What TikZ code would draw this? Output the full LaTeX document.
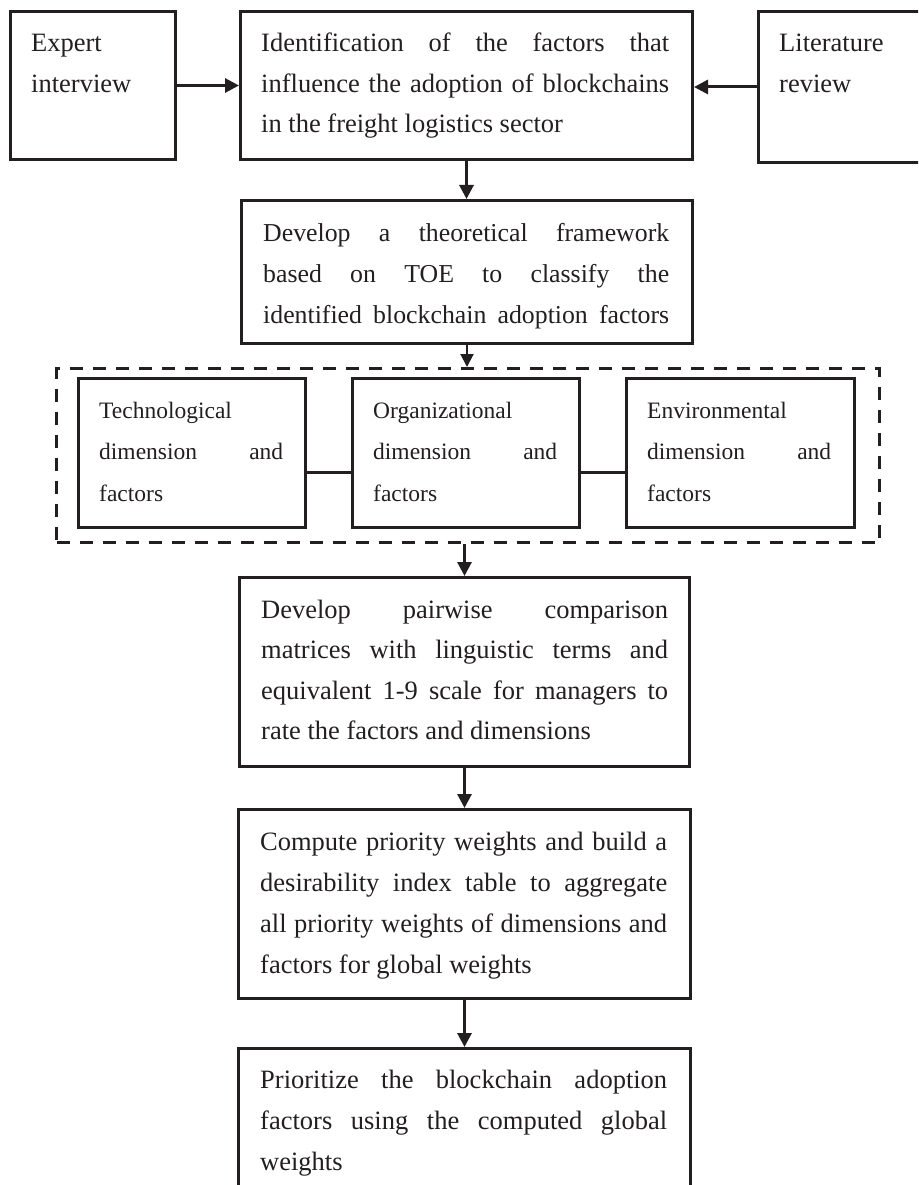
\documentclass[tikz,border=0pt]{standalone}
\usepackage{fontspec}
\setmainfont{Liberation Serif}
\usetikzlibrary{arrows.meta}
\definecolor{ink}{RGB}{35,31,32}
\hyphenpenalty=10000
\exhyphenpenalty=10000
\tikzset{
  boxe/.style={draw=ink, line width=3pt, inner sep=0pt, anchor=north west},
  arr/.style={draw=ink, line width=3pt, -{Triangle[length=14pt,width=14pt]}},
  thinarr/.style={draw=ink, line width=2pt, -{Triangle[length=13pt,width=13pt]}},
  link/.style={draw=ink, line width=3pt},
  dashbox/.style={draw=ink, line width=3pt, dash pattern=on 13pt off 10pt, inner sep=0pt, anchor=north west},
  bigtxt/.style={anchor=base west, inner sep=0pt, text=ink},
  smalltxt/.style={anchor=base west, inner sep=0pt, text=ink},
}
\newcommand{\mainpar}[3]{\parbox[t]{#1pt}{\fontsize{26.5}{#2}\selectfont\sloppy #3}}
\newcommand{\tightpar}[3]{\parbox[t]{#1pt}{\fontsize{25.8}{#2}\selectfont\sloppy\parfillskip=0pt #3}}
\newcommand{\smallpar}[1]{\parbox[t]{184pt}{\fontsize{23.5}{41.7}\selectfont\sloppy #1}}
\begin{document}
\begin{tikzpicture}[x=1pt,y=-1pt]
\useasboundingbox (0,0) rectangle (918,1185);
\clip (0,0) rectangle (918,1185);
\fill[white] (0,0) rectangle (918,1185);

% boxes
\node[boxe, minimum width=165pt, minimum height=148pt] (exp) at (9,10) {};
\node[boxe, minimum width=452pt, minimum height=148pt] (b1) at (239,10) {};
\node[boxe, minimum width=180pt, minimum height=151pt] (lit) at (757,10) {};
\node[boxe, minimum width=451pt, minimum height=143pt] (b2) at (240,199) {};
\node[dashbox, minimum width=823pt, minimum height=174pt] (dash) at (55,367) {};
\node[boxe, minimum width=227pt, minimum height=149pt] (tech) at (77,377) {};
\node[boxe, minimum width=227pt, minimum height=149pt] (org) at (351,377) {};
\node[boxe, minimum width=228pt, minimum height=149pt] (env) at (625,377) {};
\node[boxe, minimum width=450pt, minimum height=189pt] (b3) at (238,576) {};
\node[boxe, minimum width=452pt, minimum height=189pt] (b4) at (237,808) {};
\node[boxe, minimum width=452pt, minimum height=200pt] (b5) at (237,1047) {};

% texts
\node[bigtxt] (texp) at (31,52) {\mainpar{140}{40.5}{Expert\newline interview}};
\node[bigtxt] (tb1) at (261,52) {\mainpar{408}{40.5}{Identification of the factors that\linebreak influence the adoption of blockchains\linebreak in the freight logistics sector}};
\node[bigtxt] (tlit) at (779,52) {\mainpar{140}{40.5}{Literature\newline review}};
\node[bigtxt] (tb2) at (263,241) {\tightpar{406}{41}{Develop a theoretical framework\linebreak based on TOE to classify the\linebreak identified blockchain adoption factors}};
\node[smalltxt] (ttech) at (99,418) {\smallpar{Technological\newline dimension and\linebreak factors}};
\node[smalltxt] (torg) at (373,418) {\smallpar{Organizational\newline dimension and\linebreak factors}};
\node[smalltxt] (tenv) at (647,418) {\smallpar{Environmental\newline dimension and\linebreak factors}};
\node[bigtxt] (tb3) at (261,618) {\mainpar{407}{40.5}{Develop pairwise comparison\linebreak matrices with linguistic terms and\linebreak equivalent 1-9 scale for managers to\linebreak rate the factors and dimensions}};
\node[bigtxt] (tb4) at (260,850) {\mainpar{407}{41}{Compute priority weights and build a\linebreak desirability index table to aggregate\linebreak all priority weights of dimensions and\linebreak factors for global weights}};
\node[bigtxt] (tb5) at (260,1088) {\mainpar{407}{41}{Prioritize the blockchain adoption\linebreak factors using the computed global\linebreak weights}};

% connectors
\draw[arr] (exp.east) -- (b1.west);
\draw[arr] (lit.west) -- (b1.east |- lit.west);
\draw[arr] (b1.south) -- (b2.north -| b1.south);
\draw[thinarr] (b2.south) -- (b2.south |- dash.north);
\draw[link] ([yshift=-19.5pt]tech.east) -- ([yshift=-19.5pt]org.west);
\draw[link] ([yshift=-19.5pt]org.east) -- ([yshift=-19.5pt]env.west);
\draw[arr] (b3.north |- dash.south) -- (b3.north);
\draw[arr] (b3.south) -- (b4.north);
\draw[arr] (b4.south) -- (b5.north);
\end{tikzpicture}
\end{document}
